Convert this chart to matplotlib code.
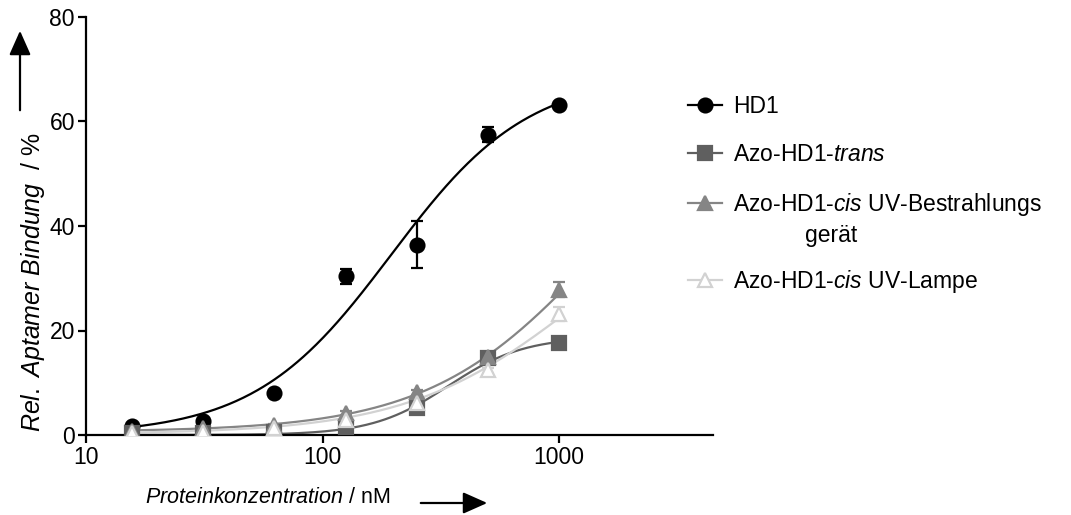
import numpy as np
import matplotlib
matplotlib.use("Agg")
import matplotlib.pyplot as plt
from matplotlib.text import Annotation

plt.rcParams['font.family'] = ['Liberation Sans', 'DejaVu Sans']
plt.rcParams['mathtext.fontset'] = 'custom'
plt.rcParams['mathtext.rm'] = 'Liberation Sans'
plt.rcParams['mathtext.it'] = 'Liberation Sans:italic'
plt.rcParams['font.size'] = 16.5

# Proteinkonzentration in nM
konz = [15.625, 31.25, 62.5, 125, 250, 500, 1000]

hd1 = [1.7, 2.7, 8.0, 30.4, 36.4, 57.5, 63.1]
hd1_err = [0.3, 0.3, 0.3, 1.45, 4.5, 1.4, 0.4]

trans = [0.3, 0.3, 0.5, 1.5, 5.2, 14.7, 17.6]
trans_err = [0.2, 0.2, 0.2, 0.3, 0.4, 0.6, 0.4]

cis_geraet = [0.7, 1.3, 1.9, 4.2, 8.2, 14.9, 27.8]
cis_geraet_err = [0.2, 0.2, 0.3, 0.4, 0.5, 0.6, 1.4]

cis_lampe = [0.3, 0.5, 1.3, 2.9, 6.1, 12.4, 23.2]
cis_lampe_err = [0.2, 0.2, 0.2, 0.3, 0.4, 0.5, 1.3]

# Fitparameter (Hill): top, Kd, h, bottom
fit_hd1 = [69, 195, 1.5, 0]
fit_trans = [18.8, 340, 2.7, 0]
fit_geraet = [70, 1500, 1.2, 0.6]
fit_lampe = [50, 1200, 1.2, 0.2]


def hill(x, top, kd, h, bottom):
    return bottom + (top - bottom) * x**h / (kd**h + x**h)


fig = plt.figure(figsize=(10.71, 5.15), dpi=100)
ax = fig.add_axes([86 / 1071, 1 - 435 / 515, (713 - 86) / 1071, (435 - 17) / 515])

xs = np.logspace(np.log10(konz[0]), np.log10(konz[-1]), 300)

serien = [
    (hd1, hd1_err, fit_hd1, 'black', 'o', 'black', 'HD1'),
    (trans, trans_err, fit_trans, '#5f5f5f', 's', '#5f5f5f', r'Azo-HD1-$\mathit{trans}$'),
    (cis_geraet, cis_geraet_err, fit_geraet, '#858585', '^', '#858585',
     r'Azo-HD1-$\mathit{cis}$ UV-Bestrahlungs'),
    (cis_lampe, cis_lampe_err, fit_lampe, '#d2d2d2', '^', 'white', r'Azo-HD1-$\mathit{cis}$ UV-Lampe'),
]

handles = []
for werte, fehler, fit, farbe, marker, fuellung, name in serien:
    ax.plot(xs, hill(xs, *fit), color=farbe, lw=1.6, zorder=2)
    ax.errorbar(konz, werte, yerr=fehler, fmt='none', ecolor=farbe, elinewidth=1.6,
                capsize=4, capthick=1.6, zorder=3)
    ax.plot(konz, werte, linestyle='none', marker=marker, markersize=10,
            markerfacecolor=fuellung, markeredgecolor=farbe, markeredgewidth=1.6, zorder=4)
    h, = ax.plot([], [], color=farbe, lw=1.6, marker=marker, markersize=10,
                 markerfacecolor=fuellung, markeredgecolor=farbe, markeredgewidth=1.6)
    handles.append((h, name))

ax.set_xscale('log')
ax.set_xlim(10, 4470)
ax.set_ylim(0, 80)
ax.set_xticks([10, 100, 1000])
ax.set_xticklabels(['10', '100', '1000'])
ax.xaxis.set_minor_locator(matplotlib.ticker.NullLocator())
ax.set_yticks([0, 20, 40, 60, 80])

for s in ['top', 'right']:
    ax.spines[s].set_visible(False)
for s in ['left', 'bottom']:
    ax.spines[s].set_linewidth(1.6)
ax.tick_params(width=1.6, length=6, labelsize=16.5, pad=2)

ax.set_xlabel(r'$\mathit{Proteinkonzentration}$ / nM', fontsize=15.5)
ax.xaxis.set_label_coords((268 - 86) / 627, -52 / 418)
ax.set_ylabel(r'$\mathit{Rel.\ Aptamer\ Bindung}$  / %', fontsize=18)
ax.yaxis.set_label_coords((47 - 86) / 627, (435 - 282) / 418)

pfeil = dict(arrowstyle='-|>,head_length=0.9,head_width=0.4', color='black', lw=1.6)
ax.annotate('', xy=(20, 515 - 28), xytext=(20, 515 - 113),
            xycoords='figure pixels', textcoords='figure pixels', arrowprops=pfeil)
ax.annotate('', xy=(490, 12), xytext=(418, 12),
            xycoords='figure pixels', textcoords='figure pixels', arrowprops=pfeil)

leg_args = dict(loc='upper left', frameon=False, borderpad=0, borderaxespad=0,
                handlelength=1.5, handletextpad=0.45, fontsize=16.5)
leg1 = fig.legend([h for h, n in handles[:3]], [n for h, n in handles[:3]],
                  bbox_to_anchor=(688 / 1071, 1 - 95 / 515), labelspacing=1.1, **leg_args)
leg2 = fig.legend([handles[3][0]], [handles[3][1]],
                  bbox_to_anchor=(688 / 1071, 1 - 268 / 515), **leg_args)

zeile2 = Annotation('gerät', xy=(0, 0), xycoords=leg1.get_texts()[2], xytext=(52, -4),
                    textcoords='offset points', ha='left', va='top', fontsize=16.5)
zeile2.set_zorder(10)
fig.add_artist(zeile2)

fig.savefig('out.png', dpi=100)
